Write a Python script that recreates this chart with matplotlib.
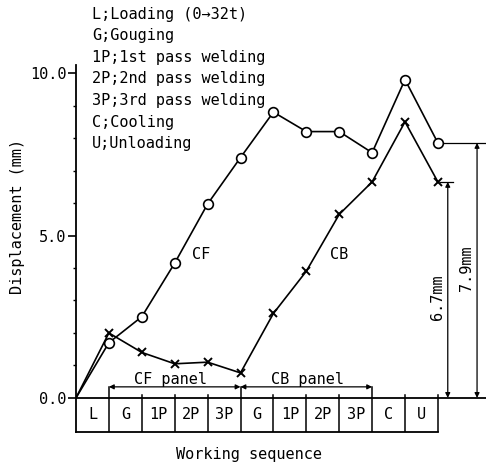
import matplotlib
matplotlib.use("Agg")
import matplotlib.pyplot as plt
import numpy as np

plt.rcParams['font.family'] = ['DejaVu Sans Mono']

# Data
steps = ['L', 'G', '1P', '2P', '3P', 'G', '1P', '2P', '3P', 'C', 'U']
x_pos = [0, 1, 2, 3, 4, 5, 6, 7, 8, 9, 10, 11]
cf_values = [0.0, 1.7, 2.5, 4.15, 5.97, 7.4, 8.8, 8.2, 8.2, 7.55, 9.8, 7.85]
cb_values = [0.0, 2.0, 1.4, 1.05, 1.1, 0.77, 2.6, 3.9, 5.65, 6.65, 8.5, 6.65]
legend_lines = ['L;Loading (0→32t)', 'G;Gouging', '1P;1st pass welding',
                '2P;2nd pass welding', '3P;3rd pass welding', 'C;Cooling',
                'U;Unloading']
ytick_vals = [0, 5, 10]
ytick_labels = ['0.0', '5.0', '10.0']

W, H = 486, 467
fig = plt.figure(figsize=(W / 100, H / 100), dpi=100)
ax = fig.add_axes([76 / W, (H - 432) / H, 1 - 76 / W, (432 - 65) / H])
ax.set_xlim(0, 410 / 32.9)
ax.set_ylim(-1.05, 10.25)

for s in ['top', 'right']:
    ax.spines[s].set_visible(False)
ax.spines['left'].set_linewidth(1.3)
ax.spines['bottom'].set_linewidth(1.3)
ax.spines['bottom'].set_bounds(0, 11)

lw = 1.2
mk = list(range(1, len(x_pos)))
ax.plot(x_pos, cf_values, color='black', lw=lw, marker='o', ms=7,
        mfc='white', mec='black', mew=1.2, zorder=3, markevery=mk)
ax.plot(x_pos, cb_values, color='black', lw=lw, marker='x', ms=6,
        mew=1.4, zorder=3, markevery=mk)

# Axis line at zero
ax.axhline(0, color='black', lw=1.3, zorder=2)

# y ticks
ax.set_yticks(ytick_vals)
ax.set_yticklabels(ytick_labels, fontsize=11)
ax.set_yticks([1, 2, 3, 4, 6, 7, 8, 9], minor=True)
ax.tick_params(axis='y', which='major', direction='out', length=6, width=1.2, pad=1)
ax.tick_params(axis='y', which='minor', direction='out', length=2.5, width=1.0)
ax.set_xticks([])

# Step boxes
for i in range(1, 12):
    top = 0.34 if i in (1, 5, 9) else 0.08
    ax.plot([i, i], [-1.05, top], color='black', lw=1.1, zorder=2)
for i, lab in enumerate(steps):
    ax.text(i + 0.5, -0.52, lab, ha='center', va='center', fontsize=11)

# Panel arrows
arrow_kw = dict(arrowstyle='<|-|>', color='black', lw=0.9,
                mutation_scale=7, shrinkA=0, shrinkB=0)
ax.annotate('', xy=(1, 0.34), xytext=(5, 0.34), arrowprops=arrow_kw)
ax.annotate('', xy=(5, 0.34), xytext=(9, 0.34), arrowprops=arrow_kw)
ax.text(2.86, 0.56, 'CF panel', ha='center', va='center', fontsize=11)
ax.text(7.05, 0.56, 'CB panel', ha='center', va='center', fontsize=11)

# Curve labels
ax.text(3.8, 4.4, 'CF', ha='center', va='center', fontsize=11)
ax.text(8.0, 4.4, 'CB', ha='center', va='center', fontsize=11)

# Dimension lines
ax.plot([11.05, 11.45], [cb_values[-1], cb_values[-1]], color='black', lw=0.9)
ax.plot([11.2, 12.46], [cf_values[-1], cf_values[-1]], color='black', lw=0.9)
ax.annotate('', xy=(11.3, 0), xytext=(11.3, cb_values[-1]), arrowprops=arrow_kw)
ax.annotate('', xy=(12.19, 0), xytext=(12.19, cf_values[-1]), arrowprops=arrow_kw)
ax.text(11.0, 3.1, '6.7mm', rotation=90, ha='center', va='center', fontsize=11)
ax.text(11.86, 4.0, '7.9mm', rotation=90, ha='center', va='center', fontsize=11)

# Axis labels
fig.text(18 / W, 1 - 216 / H, 'Displacement (mm)', rotation=90,
         ha='center', va='center', fontsize=11)
fig.text(249 / W, 1 - 455 / H, 'Working sequence', ha='center',
         va='center', fontsize=11)

# Legend text
for k, line in enumerate(legend_lines):
    y = 14 + k * 21.6
    fig.text(92 / W, 1 - y / H, line, ha='left', va='center', fontsize=11)

fig.savefig('out.png', dpi=100)
